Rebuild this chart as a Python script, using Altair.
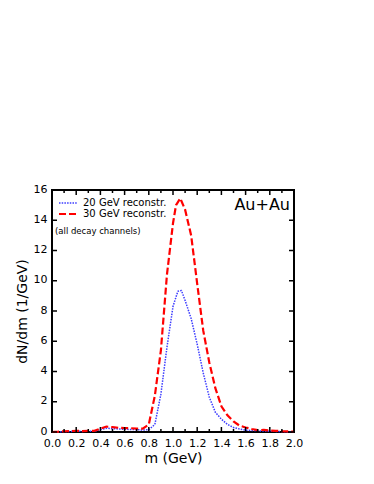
import altair as alt
import pandas as pd

# ---- data ----
m20 = [0.00, 0.05, 0.10, 0.15, 0.20, 0.25, 0.30, 0.35, 0.40, 0.45, 0.50, 0.55, 0.60, 0.65,
       0.70, 0.75, 0.80, 0.85, 0.90, 0.95, 1.00, 1.04, 1.07, 1.10, 1.15, 1.20, 1.25, 1.30,
       1.35, 1.40, 1.45, 1.50, 1.55, 1.60, 1.65, 1.70, 1.75, 1.80, 1.85, 1.90, 1.95, 2.00]
v20 = [0.00, 0.01, 0.03, 0.04, 0.05, 0.04, 0.05, 0.05, 0.15, 0.25, 0.22, 0.20, 0.18, 0.17,
       0.15, 0.13, 0.15, 0.50, 2.50, 5.60, 8.30, 9.30, 9.35, 8.70, 7.50, 5.80, 3.90, 2.30,
       1.30, 0.85, 0.50, 0.30, 0.20, 0.12, 0.10, 0.08, 0.06, 0.05, 0.04, 0.03, 0.02, 0.02]

m30 = [0.00, 0.05, 0.10, 0.15, 0.20, 0.25, 0.30, 0.35, 0.40, 0.45, 0.50, 0.55, 0.60, 0.65,
       0.70, 0.75, 0.80, 0.85, 0.90, 0.95, 1.00, 1.025, 1.06, 1.10, 1.15, 1.20, 1.25, 1.30,
       1.35, 1.40, 1.45, 1.50, 1.55, 1.60, 1.65, 1.70, 1.75, 1.80, 1.85, 1.90, 1.95, 2.00]
v30 = [0.00, 0.02, 0.05, 0.06, 0.08, 0.06, 0.07, 0.08, 0.22, 0.36, 0.32, 0.28, 0.26, 0.25,
       0.22, 0.22, 0.50, 2.40, 5.40, 10.40, 13.80, 15.00, 15.45, 14.70, 13.00, 9.80, 6.70, 4.60,
       2.90, 1.70, 1.10, 0.70, 0.42, 0.30, 0.20, 0.12, 0.14, 0.10, 0.08, 0.05, 0.04, 0.03]

x_major = [0.0, 0.2, 0.4, 0.6, 0.8, 1.0, 1.2, 1.4, 1.6, 1.8, 2.0]
x_minor = [0.1, 0.3, 0.5, 0.7, 0.9, 1.1, 1.3, 1.5, 1.7, 1.9]
y_major = [0, 2, 4, 6, 8, 10, 12, 14, 16]

legend_labels = ["20 GeV reconstr.", "30 GeV reconstr."]
note = "(all decay channels)"
system = "Au+Au"

FONT = "DejaVu Sans"
W, H = 242, 242

xs = alt.Scale(domain=[0, 2], nice=False, zero=False)
ys = alt.Scale(domain=[0, 16], nice=False)

df20 = pd.DataFrame({"m": m20, "v": v20})
df30 = pd.DataFrame({"m": m30, "v": v30})

xaxis = alt.Axis(values=x_major, format=".1f", ticks=False, domain=False, grid=False,
                 labelPadding=5, titlePadding=3, title="m (GeV)",
                 labelOverlap=False, labelFlush=False)
yaxis = alt.Axis(values=y_major, format="d", ticks=False, domain=False, grid=False,
                 labelPadding=5, titlePadding=4, title="dN/dm (1/GeV)", labelOffset=-1,
                 labelOverlap=False, labelFlush=False)

blue = alt.Chart(df20).mark_line(color="#3b3bff", strokeWidth=1.5, strokeDash=[1.5, 1.2]).encode(
    x=alt.X("m:Q", scale=xs, axis=xaxis),
    y=alt.Y("v:Q", scale=ys, axis=yaxis),
)
red = alt.Chart(df30).mark_line(color="#ff0000", strokeWidth=2.2, strokeDash=[7, 3]).encode(
    x=alt.X("m:Q", scale=xs, axis=xaxis), y=alt.Y("v:Q", scale=ys, axis=yaxis)
)

dfxM = pd.DataFrame({"t": x_major})
dfxm = pd.DataFrame({"t": x_minor})
dfy = pd.DataFrame({"t": y_major})

def xticks(df, ln):
    b = alt.Chart(df).mark_rule(color="black", strokeWidth=1.5).encode(
        x=alt.X("t:Q", scale=xs, axis=xaxis), y=alt.value(H), y2=alt.value(H - ln))
    t = alt.Chart(df).mark_rule(color="black", strokeWidth=1.5).encode(
        x=alt.X("t:Q", scale=xs, axis=xaxis), y=alt.value(0), y2=alt.value(ln))
    return b + t

ytl = alt.Chart(dfy).mark_rule(color="black", strokeWidth=1.5).encode(
    y=alt.Y("t:Q", scale=ys, axis=yaxis), x=alt.value(0), x2=alt.value(5))
ytr = alt.Chart(dfy).mark_rule(color="black", strokeWidth=1.5).encode(
    y=alt.Y("t:Q", scale=ys, axis=yaxis), x=alt.value(W), x2=alt.value(W - 5))

one = pd.DataFrame({"a": [0]})
leg_blue = alt.Chart(one).mark_rule(color="#3b3bff", strokeWidth=1.5, strokeDash=[1.5, 1.2]).encode(
    x=alt.value(7), x2=alt.value(25), y=alt.value(13))
leg_red = alt.Chart(one).mark_rule(color="#ff0000", strokeWidth=2.2, strokeDash=[7, 3]).encode(
    x=alt.value(7), x2=alt.value(25), y=alt.value(24))
leg_txt = alt.Chart(pd.DataFrame({"t": legend_labels, "yy": [13, 24]})).mark_text(
    align="left", baseline="middle", font=FONT, fontSize=10, color="black").encode(
    x=alt.value(31), y=alt.Y("yy:Q", scale=None), text="t:N")
note_txt = alt.Chart(one).mark_text(align="left", baseline="middle", font=FONT, fontSize=8.5,
                                    color="black", text=note).encode(x=alt.value(3), y=alt.value(41))
sys_txt = alt.Chart(one).mark_text(align="right", baseline="middle", font=FONT, fontSize=16,
                                   color="black", text=system).encode(x=alt.value(238), y=alt.value(15))

chart = alt.layer(
    blue, red, xticks(dfxM, 5), xticks(dfxm, 3), ytl, ytr,
    leg_blue, leg_red, leg_txt, note_txt, sys_txt
).properties(
    width=W, height=H,
    autosize=alt.AutoSizeParams(type="none"),
    padding={"left": 44, "top": 182, "right": 50, "bottom": 40},
).configure_view(
    stroke="black", strokeWidth=2
).configure_axis(
    labelFont=FONT, titleFont=FONT, labelFontSize=11, titleFontSize=14,
    titleFontWeight="normal", labelColor="black", titleColor="black",
    labelOverlap=False, labelFlush=False
)

chart.save("out.html", embed_options={"renderer": "svg", "actions": False})
